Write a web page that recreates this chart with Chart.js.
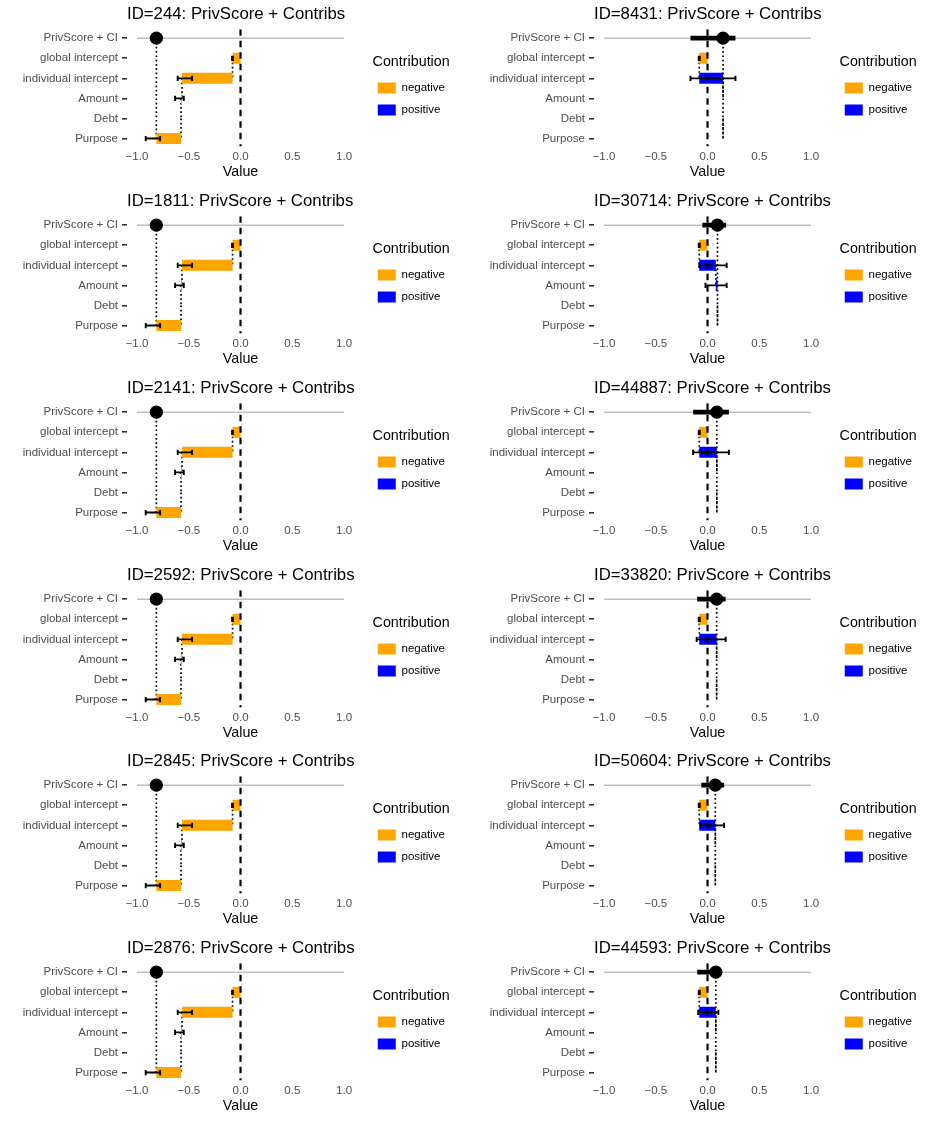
<!DOCTYPE html>
<html>
<head>
<meta charset="utf-8">
<title>PrivScore + Contribs</title>
<script src="https://cdn.jsdelivr.net/npm/chart.js@4.4.0/dist/chart.umd.min.js"></script>
<style>
  body { margin: 0; background: #fff; }
  #grid { position: relative; width: 934px; height: 1121px; overflow: hidden; }
  .panel { position: absolute; width: 467px; height: 187px; }
</style>
</head>
<body>
<div id="grid"></div>
<script>
// rows of every panel, top to bottom
const rows = ['PrivScore + CI', 'global intercept', 'individual intercept', 'Amount', 'Debt', 'Purpose'];
// panel ids, left to right then top to bottom
const ids = [244, 8431, 1811, 30714, 2141, 44887, 2592, 33820, 2845, 50604, 2876, 44593];

// contributions per panel: global intercept, individual intercept, Amount, Debt, Purpose
const contribs = [
  [-0.077, -0.488, -0.010, 0, -0.238],
  [-0.080, 0.230, 0, 0, 0],
  [-0.077, -0.488, -0.010, 0, -0.238],
  [-0.080, 0.160, 0.016, 0, 0],
  [-0.077, -0.488, -0.010, 0, -0.238],
  [-0.080, 0.170, 0, 0, 0],
  [-0.077, -0.488, -0.010, 0, -0.238],
  [-0.080, 0.168, 0, 0, 0],
  [-0.077, -0.488, -0.010, 0, -0.238],
  [-0.080, 0.155, 0, 0, 0],
  [-0.077, -0.488, -0.010, 0, -0.238],
  [-0.080, 0.160, 0, 0, 0]
];
// error bar ends, same row order (null = no error bar)
const errLow = [
  [-0.082, -0.607, -0.632, null, -0.916],
  [-0.085, -0.165, null, null, null],
  [-0.082, -0.607, -0.632, null, -0.916],
  [-0.085, -0.080, -0.020, null, null],
  [-0.082, -0.607, -0.632, null, -0.916],
  [-0.085, -0.139, null, null, null],
  [-0.082, -0.607, -0.632, null, -0.916],
  [-0.085, -0.105, null, null, null],
  [-0.082, -0.607, -0.632, null, -0.916],
  [-0.085, -0.068, null, null, null],
  [-0.082, -0.607, -0.632, null, -0.916],
  [-0.085, -0.090, null, null, null]
];
const errHigh = [
  [-0.074, -0.468, -0.548, null, -0.777],
  [-0.075, 0.270, null, null, null],
  [-0.074, -0.468, -0.548, null, -0.777],
  [-0.075, 0.185, 0.185, null, null],
  [-0.074, -0.468, -0.548, null, -0.777],
  [-0.075, 0.206, null, null, null],
  [-0.074, -0.468, -0.548, null, -0.777],
  [-0.075, 0.175, null, null, null],
  [-0.074, -0.468, -0.548, null, -0.777],
  [-0.075, 0.160, null, null, null],
  [-0.074, -0.468, -0.548, null, -0.777],
  [-0.075, 0.105, null, null, null]
];
// PrivScore with its interval
const scores = [-0.813, 0.150, -0.813, 0.096, -0.813, 0.090, -0.813, 0.088, -0.813, 0.075, -0.813, 0.080];
const ciLow = [-0.830, -0.165, -0.830, -0.050, -0.830, -0.139, -0.830, -0.100, -0.830, -0.060, -0.830, -0.100];
const ciHigh = [-0.800, 0.270, -0.800, 0.180, -0.800, 0.206, -0.800, 0.175, -0.800, 0.160, -0.800, 0.100];
const scoreRange = [-1, 1];
const xTicks = [-1, -0.5, 0, 0.5, 1];

const yMin = -0.45, yMax = 5.4;
const xMin = -1.0966, xMax = 1.2242;
const capHalf = 0.13;

Chart.defaults.font.family = "'Liberation Sans', Arial, sans-serif";

const gap = () => ({x: null, y: null});
const fmt = v => (v < 0 ? '\u2212' : '') + Math.abs(v).toFixed(1);

function panelData(p) {
  const neg = [], pos = [], dots = [], errs = [];
  let run = 0;
  contribs[p].forEach((v, k) => {
    const row = k + 1;
    const start = run;
    run += v;
    (v < 0 ? neg : pos).push({x: [start, run], y: row});
    if (row < rows.length - 1) dots.push({x: run, y: row}, {x: run, y: row + 1}, gap());
    const lo = errLow[p][k], hi = errHigh[p][k];
    if (lo !== null) {
      errs.push({x: lo, y: row}, {x: hi, y: row}, gap(),
        {x: lo, y: row - capHalf}, {x: lo, y: row + capHalf}, gap(),
        {x: hi, y: row - capHalf}, {x: hi, y: row + capHalf}, gap());
    }
  });
  dots.push({x: scores[p], y: 0}, {x: scores[p], y: rows.length - 1});
  return {neg, pos, dots, errs};
}

// ggplot puts the title on the panel's left edge and centres "Value" on the panel
const panelAlign = {
  id: 'panelAlign',
  afterLayout(chart) {
    chart.titleBlock.left = chart.chartArea.left;
    const x = chart.scales.x;
    x.right = 2 * x.getPixelForValue(0) - x.left;
  }
};

const grid = document.getElementById('grid');

ids.forEach((id, p) => {
  const div = document.createElement('div');
  div.className = 'panel';
  div.style.left = (p % 2) * 467 + 'px';
  div.style.top = Math.round(Math.floor(p / 2) * 1121 / 6) + 'px';
  const canvas = document.createElement('canvas');
  div.appendChild(canvas);
  grid.appendChild(div);

  const d = panelData(p);

  new Chart(canvas, {
    type: 'bar',
    data: {
      datasets: [
        {label: 'negative', data: d.neg, backgroundColor: '#FFA500', borderWidth: 0,
          grouped: false, categoryPercentage: 1, barPercentage: 0.55, order: 5},
        {label: 'positive', data: d.pos, backgroundColor: '#0000FF', borderWidth: 0,
          grouped: false, categoryPercentage: 1, barPercentage: 0.55, order: 5},
        {type: 'line', label: 'range', data: [{x: scoreRange[0], y: 0}, {x: scoreRange[1], y: 0}],
          borderColor: '#BEBEBE', borderWidth: 1.6, order: 10},
        {type: 'line', label: 'steps', data: d.dots,
          borderColor: '#000', borderWidth: 1.7, borderDash: [1.7, 2.6], borderCapStyle: 'butt', order: 9},
        {type: 'line', label: 'zero', data: [{x: 0, y: yMin}, {x: 0, y: yMax}],
          borderColor: '#000', borderWidth: 2.2, borderDash: [6.5, 5], order: 4},
        {type: 'line', label: 'errors', data: d.errs,
          borderColor: '#000', borderWidth: 1.9, order: 3},
        {type: 'line', label: 'ci', data: [{x: ciLow[p], y: 0}, {x: ciHigh[p], y: 0}],
          borderColor: '#000', borderWidth: 4.8, order: 2},
        {type: 'line', label: 'score', data: [{x: scores[p], y: 0}], showLine: false,
          pointRadius: 6.6, pointBackgroundColor: '#000', pointBorderWidth: 0, order: 1}
      ]
    },
    options: {
      responsive: true,
      maintainAspectRatio: false,
      animation: false,
      events: [],
      indexAxis: 'y',
      layout: {padding: {left: 0, right: 12, top: 0, bottom: 0}},
      elements: {point: {radius: 0, hoverRadius: 0}, line: {fill: false}},
      plugins: {
        title: {
          display: true, text: 'ID=' + id + ': PrivScore + Contribs', align: 'start',
          color: '#000', font: {size: 16.8, weight: 'normal'}, padding: {top: 4, bottom: 5}
        },
        legend: {
          position: 'right', align: 'center', fullSize: false,
          labels: {
            boxWidth: 18, boxHeight: 11, padding: 10.5, color: '#000', font: {size: 11.5},
            filter: item => item.datasetIndex < 2
          },
          title: {display: true, text: 'Contribution', color: '#000', font: {size: 14.3}, padding: {top: 5, bottom: 0}}
        },
        tooltip: {enabled: false}
      },
      scales: {
        x: {
          type: 'linear', min: xMin, max: xMax, offset: false,
          afterBuildTicks: s => { s.ticks = xTicks.map(v => ({value: v})); },
          afterFit: s => { s.height = 40.4; },
          border: {display: false},
          grid: {display: false, drawTicks: false},
          ticks: {autoSkip: false, maxRotation: 0, padding: 3.5, color: '#4D4D4D', font: {size: 11.5}, callback: v => fmt(v)},
          title: {display: true, text: 'Value', color: '#000', font: {size: 14.3}, padding: {top: 0, bottom: 6.5}}
        },
        y: {
          type: 'linear', reverse: true, min: yMin, max: yMax, offset: false,
          afterBuildTicks: s => { s.ticks = rows.map((r, i) => ({value: i})); },
          afterFit: s => { s.width = 127; },
          border: {display: false},
          grid: {drawOnChartArea: false, offset: false, tickLength: 5, color: '#333333', lineWidth: 1.6},
          ticks: {autoSkip: false, padding: 4, color: '#4D4D4D', font: {size: 11.5}, callback: v => rows[v]}
        }
      }
    },
    plugins: [panelAlign]
  });
});
</script>
</body>
</html>
